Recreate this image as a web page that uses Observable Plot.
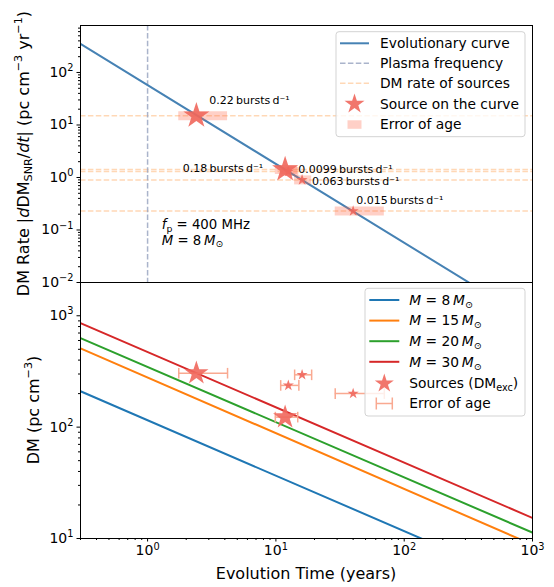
<!DOCTYPE html>
<html>
<head>
<meta charset="utf-8">
<script src="https://cdn.jsdelivr.net/npm/d3@7"></script>
<script src="https://cdn.jsdelivr.net/npm/@observablehq/plot@0.6"></script>
<style>
html,body{margin:0;padding:0;background:#fff;}
#chart{position:relative;width:554px;height:587px;font-family:"DejaVu Sans",sans-serif;color:#000;}
#chart svg{position:absolute;left:0;overflow:visible;}
</style>
</head>
<body>
<div id="chart"></div>
<script>
// ---------------- data ----------------
const curveTime = [0.3, 1000];
const curveRate = [350, 0.0018];
const plasmaTime = [1.0];
const sourceTime = [2.4, 11.8, 12.5, 16, 40];
const sourceRate = [15, 1.42, 1.3, 0.9, 0.23];
const sourceDM = [305, 123, 237, 295, 200];
const burstRate = [0.22, 0.18, 0.0099, 0.063, 0.015];
const ageLow = [1.75, 9.9, 10.9, 14, 29];
const ageHigh = [4.2, 14.8, 15.1, 19, 70];
const massTime = [0.3, 1000];
const masses = [8, 15, 20, 30];
const dmM8 = [210, 3.7];
const dmM15 = [510, 8.8];
const dmM20 = [630, 11.3];
const dmM30 = [860, 15.3];
const xMajor = [1, 10, 100, 1000];
const yTopMajor = [0.01, 0.1, 1, 10, 100];
const yBotMajor = [10, 100, 1000];
const xDomain = [0.3, 1000];
const yTopDomain = [0.01, 785];
const yBotDomain = [10, 1990];

// ---------------- tables ----------------
const sources = sourceTime.map((t, i) => ({t, rate: sourceRate[i], dm: sourceDM[i], burst: burstRate[i], lo: ageLow[i], hi: ageHigh[i]}));
const curve = curveTime.map((t, i) => ({t, rate: curveRate[i]}));
const massDM = [dmM8, dmM15, dmM20, dmM30];
const massRows = masses.flatMap((m, i) => massTime.map((t, j) => ({mass: m, t, dm: massDM[i][j]})));
const isBig = d => d.burst > 0.1;

// ---------------- styles ----------------
const massColors = ["#1f77b4", "#ff7f0e", "#2ca02c", "#d62728"];
const starFill = "#f0675c";
const tomato = "#ff6347";
const errColor = "#f9a991";
const peach = "#ff7f0e";
const plasmaColor = "#9ba7c2";
const curveColor = "#4682b4";
const dash = "5.5,2.4";
const legendFont = 13.8;

const fmtPow = d => `10^${Math.round(Math.log10(d))}`;
function minorTicks([lo, hi]) {
  const out = [];
  for (let k = -3; k <= 4; k++) for (let m = 2; m <= 9; m++) {
    const v = m * 10 ** k;
    if (v >= lo * 0.9999 && v <= hi * 1.0001) out.push(v);
  }
  return out;
}
const capSymbol = {draw(ctx, size) { const h = Math.sqrt(size) / 2; ctx.moveTo(0, -h); ctx.lineTo(0, h); }};

const labelLayout = [
  {dx: 13, dy: -15, anchor: "start"},
  {dx: -22, dy: -1.5, anchor: "end"},
  {dx: 10, dy: -2.2, anchor: "start"},
  {dx: 10, dy: 1.5, anchor: "start"},
  {dx: 3, dy: -11, anchor: "start"}
];

const baseStyle = {fontFamily: "DejaVu Sans", fontSize: "14px", background: "none", overflow: "visible", color: "#000"};

// ---------------- top panel ----------------
const topPlot = Plot.plot({
  width: 554, height: 282,
  marginLeft: 80, marginRight: 22, marginTop: 25, marginBottom: 0,
  style: baseStyle,
  x: {type: "log", domain: xDomain, axis: null},
  y: {type: "log", domain: yTopDomain},
  marks: [
    Plot.ruleY(sourceRate, {stroke: peach, strokeOpacity: 0.3, strokeWidth: 1.5, strokeDasharray: dash}),
    Plot.ruleX(plasmaTime, {stroke: plasmaColor, strokeOpacity: 0.85, strokeWidth: 1.5, strokeDasharray: dash}),
    Plot.line(curve, {x: "t", y: "rate", stroke: curveColor, strokeWidth: 2, clip: true}),
    Plot.ruleY(sources, {y: "rate", x1: "lo", x2: "hi", stroke: tomato, strokeOpacity: 0.3, strokeWidth: 9}),
    Plot.dot(sources.filter(isBig), {x: "t", y: "rate", symbol: "star", r: 8.2, fill: starFill, fillOpacity: 0.9, stroke: "none"}),
    Plot.dot(sources.filter(d => !isBig(d)), {x: "t", y: "rate", symbol: "star", r: 3.5, fill: starFill, fillOpacity: 0.9, stroke: "none"}),
    ...sources.map((s, i) => Plot.text([s], {
      x: "t", y: "rate", text: d => `${d.burst}\u2009bursts\u2009d⁻¹`,
      dx: labelLayout[i].dx, dy: labelLayout[i].dy, textAnchor: labelLayout[i].anchor,
      fontSize: 11, fill: "#000"
    })),
    Plot.frame({stroke: "#000", strokeWidth: 1}),
    Plot.axisY({ticks: yTopMajor, tickFormat: fmtPow, tickSize: 3.5, tickPadding: 3.5, label: null}),
    Plot.axisY({ticks: minorTicks(yTopDomain), tickFormat: () => "", tickSize: 2, label: null})
  ]
});

// ---------------- bottom panel ----------------
const bottomPlot = Plot.plot({
  width: 554, height: 305,
  marginLeft: 80, marginRight: 22, marginTop: 0, marginBottom: 49,
  style: baseStyle,
  x: {type: "log", domain: xDomain},
  y: {type: "log", domain: yBotDomain},
  color: {type: "ordinal", domain: masses, range: massColors},
  marks: [
    Plot.line(massRows, {x: "t", y: "dm", z: "mass", stroke: "mass", strokeWidth: 2, clip: true}),
    Plot.ruleY(sources, {y: "dm", x1: "lo", x2: "hi", stroke: errColor, strokeWidth: 1.5}),
    Plot.dot(sources, {x: "lo", y: "dm", symbol: capSymbol, r: 6, stroke: errColor, strokeWidth: 1.5, fill: "none"}),
    Plot.dot(sources, {x: "hi", y: "dm", symbol: capSymbol, r: 6, stroke: errColor, strokeWidth: 1.5, fill: "none"}),
    Plot.dot(sources.filter(isBig), {x: "t", y: "dm", symbol: "star", r: 7.6, fill: starFill, fillOpacity: 0.9, stroke: "none"}),
    Plot.dot(sources.filter(d => !isBig(d)), {x: "t", y: "dm", symbol: "star", r: 3.5, fill: starFill, fillOpacity: 0.9, stroke: "none"}),
    Plot.frame({stroke: "#000", strokeWidth: 1}),
    Plot.axisY({ticks: yBotMajor, tickFormat: fmtPow, tickSize: 3.5, tickPadding: 3.5, label: null}),
    Plot.axisY({ticks: minorTicks(yBotDomain), tickFormat: () => "", tickSize: 2, label: null}),
    Plot.axisX({ticks: xMajor, tickFormat: fmtPow, tickSize: 3.5, tickPadding: 3.5, label: null}),
    Plot.axisX({ticks: minorTicks(xDomain), tickFormat: () => "", tickSize: 2, label: null})
  ]
});

const chart = document.getElementById("chart");
topPlot.style.top = "0px";
bottomPlot.style.top = "282px";
chart.appendChild(topPlot);
chart.appendChild(bottomPlot);

// ---------------- rich text helpers ----------------
function powLabels(svg) {
  d3.select(svg).selectAll("text").each(function () {
    const m = /^10\^(-?\d+)$/.exec(this.textContent);
    if (!m) return;
    const sel = d3.select(this);
    sel.text("10");
    sel.append("tspan").attr("dy", "-0.6em").attr("font-size", "0.7em").text(m[1].replace("-", "−"));
  });
}
powLabels(topPlot);
powLabels(bottomPlot);

function rich(sel, parts, fs) {
  let cur = 0;
  for (const p of parts) {
    const [txt, st = ""] = Array.isArray(p) ? p : [p];
    const flags = st.split(" ");
    const sub = flags.includes("sub"), sup = flags.includes("sup");
    const target = sub ? 0.22 * fs : sup ? -0.42 * fs : 0;
    const ts = sel.append("tspan").text(txt);
    if (target !== cur) ts.attr("dy", target - cur);
    cur = target;
    if (sub || sup) ts.attr("font-size", fs * 0.7);
    if (flags.includes("it")) ts.attr("font-style", "italic");
  }
}

function richText(svg, x, y, parts, fs, opts = {}) {
  const t = d3.select(svg).append("text")
    .attr("font-size", fs)
    .attr("fill", "#000")
    .attr("text-anchor", opts.anchor || "start");
  if (opts.rotate) {
    t.attr("transform", `translate(${x},${y}) rotate(-90)`).attr("x", 0).attr("y", 0.35 * fs);
  } else {
    t.attr("x", x).attr("y", y + 0.35 * fs);
  }
  rich(t, parts, fs);
  return t;
}

// axis labels
richText(topPlot, 23, 153.5, ["DM Rate |", ["d", "it"], "DM", ["SNR", "sub"], "/", ["dt", "it"], "| (pc cm", ["−3", "sup"], " yr", ["−1", "sup"], ")"], 16, {anchor: "middle", rotate: true});
richText(bottomPlot, 33, 128, ["DM (pc cm", ["−3", "sup"], ")"], 16, {anchor: "middle", rotate: true});
richText(bottomPlot, 306, 291, ["Evolution Time (years)"], 16, {anchor: "middle"});

// annotation f_p / M in the top panel, placed through the plot scales
const tx = topPlot.scale("x"), ty = topPlot.scale("y");
richText(topPlot, tx.apply(1.3), ty.apply(0.125), [["f", "it"], ["p", "sub"], " = 400 MHz"], 13.3);
richText(topPlot, tx.apply(1.3), ty.apply(0.0635), [["M", "it"], " = 8\u2009", ["M", "it"], ["⊙", "sub"]], 13.3);

// ---------------- legends ----------------
function legend(svg, box, hx0, hx1, textX, rows) {
  const g = d3.select(svg).append("g").attr("font-size", legendFont).attr("text-anchor", "start");
  g.append("rect").attr("x", box[0]).attr("y", box[1]).attr("width", box[2]).attr("height", box[3])
    .attr("rx", 3).attr("fill", "#fff").attr("fill-opacity", 0.8).attr("stroke", "#d3d3d3").attr("stroke-width", 1);
  const hc = (hx0 + hx1) / 2;
  for (const r of rows) {
    const y = r.y;
    if (r.type === "line") {
      g.append("line").attr("x1", hx0).attr("x2", hx1).attr("y1", y).attr("y2", y)
        .attr("stroke", r.color).attr("stroke-width", r.width || 2)
        .attr("stroke-opacity", r.opacity ?? 1)
        .attr("stroke-dasharray", r.dash || null);
    } else if (r.type === "star") {
      g.append("path").attr("d", d3.symbol(d3.symbolStar, r.size)()).attr("transform", `translate(${hc},${y})`)
        .attr("fill", starFill).attr("fill-opacity", 0.9);
    } else if (r.type === "patch") {
      g.append("rect").attr("x", hc - 7).attr("y", y - 4).attr("width", 14).attr("height", 8.5)
        .attr("fill", tomato).attr("fill-opacity", 0.3);
    } else if (r.type === "errbar") {
      const a = hc - 8, b = hc + 8;
      g.append("path").attr("d", `M${a},${y}H${b}M${a},${y - 6}V${y + 6}M${b},${y - 6}V${y + 6}`)
        .attr("stroke", errColor).attr("stroke-width", 1.5).attr("fill", "none");
    }
    const t = g.append("text").attr("x", textX).attr("y", y + 0.35 * legendFont).attr("fill", "#000").attr("text-anchor", "start");
    rich(t, r.label, legendFont);
  }
}

legend(topPlot, [336, 31.7, 189, 105], 340, 369, 380, [
  {y: 43.3, type: "line", color: curveColor, label: ["Evolutionary curve"]},
  {y: 63.3, type: "line", color: plasmaColor, width: 1.5, dash: dash, opacity: 0.85, label: ["Plasma frequency"]},
  {y: 83.3, type: "line", color: peach, width: 1.5, dash: dash, opacity: 0.3, label: ["DM rate of sources"]},
  {y: 104, type: "star", size: 124, label: ["Source on the curve"]},
  {y: 124.3, type: "patch", label: ["Error of age"]}
]);

legend(bottomPlot, [365, 6.3, 160, 127.7], 369.3, 399.3, 409.3, [
  ...masses.map((m, i) => ({y: 18 + i * 20.6, type: "line", color: massColors[i], label: [["M", "it"], ` = ${m}\u2009`, ["M", "it"], ["⊙", "sub"]]})),
  {y: 101.5, type: "star", size: 112, label: ["Sources (DM", ["exc", "sub"], ")"]},
  {y: 121.5, type: "errbar", label: ["Error of age"]}
]);
</script>
</body>
</html>
